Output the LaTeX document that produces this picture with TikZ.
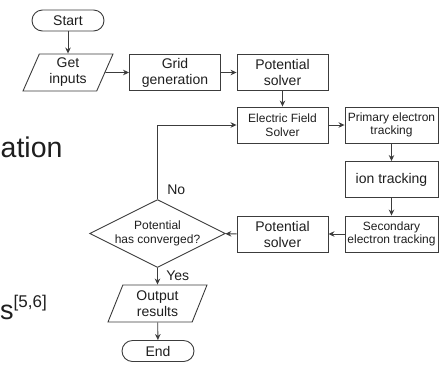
\documentclass[tikz,border=0pt]{standalone}
\usepackage{fontspec}
\setmainfont{Liberation Sans}
\usepackage{xcolor}
\usepackage{tikz}
\usetikzlibrary{shapes,arrows.meta}
\definecolor{ln}{HTML}{3C3C3C}
\definecolor{tx}{HTML}{1E1E1E}
\tikzset{blk/.style={rectangle,draw=ln,line width=0.9pt,minimum width=91pt,minimum height=36pt,inner sep=1pt,align=center,text=tx,font=\fontsize{14}{16}\selectfont}}
\tikzset{sblk/.style={blk,font=\fontsize{12}{13.5}\selectfont}}
\tikzset{term/.style={rectangle,rounded corners=10.5pt,draw=ln,line width=0.9pt,minimum width=72pt,minimum height=21pt,inner sep=1pt,text=tx,font=\fontsize{14}{16}\selectfont}}
\tikzset{io/.style={trapezium,trapezium left angle=62,trapezium right angle=118,trapezium stretches body,draw=ln,line width=0.9pt,minimum width=90pt,minimum height=37pt,inner sep=1pt,align=center,text=tx,font=\fontsize{14}{16}\selectfont}}
\tikzset{dec/.style={diamond,aspect=2,draw=ln,line width=0.9pt,minimum width=125pt,minimum height=61pt,inner sep=0pt,align=center,text=tx,font=\fontsize{12}{14}\selectfont}}
\tikzset{lbl/.style={text=tx,font=\fontsize{14}{16}\selectfont}}

\begin{document}
\begin{tikzpicture}[x=1pt,y=-1pt,>={Stealth[length=6pt,width=5.5pt]}]
    \useasboundingbox (0,0) rectangle (443,365);

    \node[anchor=base west,inner sep=0pt,text=tx,font=\fontsize{28.5}{30}\selectfont] (ation) at (0.5,157) {ation};
    \node[anchor=base west,inner sep=0pt,text=tx,font=\fontsize{27}{30}\selectfont] (refs) at (0,319) {s{\fontsize{17}{17}\selectfont\raisebox{12pt}{[5,6]}}};

    \node[term] (start) at (68,20.5) {Start};
    \node[io] (inp) at (68,72.5) {Get\\inputs};
    \node[blk] (grid) at (175,72.5) {Grid\\generation};
    \node[blk] (pot) at (282.5,72.5) {Potential\\solver};
    \node[sblk] (efs) at (282.5,125) {Electric Field\\Solver};
    \node[sblk,minimum width=93pt] (prim) at (391.5,125) {Primary electron\\tracking};
    \node[blk,minimum width=93pt] (ion) at (391.5,179.5) {ion tracking};
    \node[sblk,minimum width=93pt] (sec) at (391.5,234) {Secondary\\electron tracking};
    \node[blk] (pot2) at (282.5,234) {Potential\\solver};
    \node[dec] (conv) at (157.5,233.5) {Potential\\has converged?};
    \node[io,minimum width=99pt] (out) at (157.5,303.5) {Output\\results};
    \node[term] (stop) at (158,351) {End};

    \draw [->,draw=ln,line width=0.9pt] (start) to [] (inp);
    \draw [->,draw=ln,line width=0.9pt] (inp) to [] (grid);
    \draw [->,draw=ln,line width=0.9pt] (grid) to [] (pot);
    \draw [->,draw=ln,line width=0.9pt] (pot) to [] (efs);
    \draw [->,draw=ln,line width=0.9pt] (efs) to [] (prim);
    \draw [->,draw=ln,line width=0.9pt] (prim) to [] (ion);
    \draw [->,draw=ln,line width=0.9pt] (ion) to [] (sec);
    \draw [->,draw=ln,line width=0.9pt] (sec) to [] (pot2);
    \draw [->,draw=ln,line width=0.9pt] (pot2) to [] (conv);
    \draw [->,draw=ln,line width=0.9pt] (conv) to [] node[lbl,right=5pt]{Yes} (out);
    \draw [->,draw=ln,line width=0.9pt] (out) to [] (stop);
    \draw [->,draw=ln,line width=0.9pt] (conv.north) |- node[lbl,pos=0.06,right=6pt]{No} (efs.west);
\end{tikzpicture}
\end{document}
